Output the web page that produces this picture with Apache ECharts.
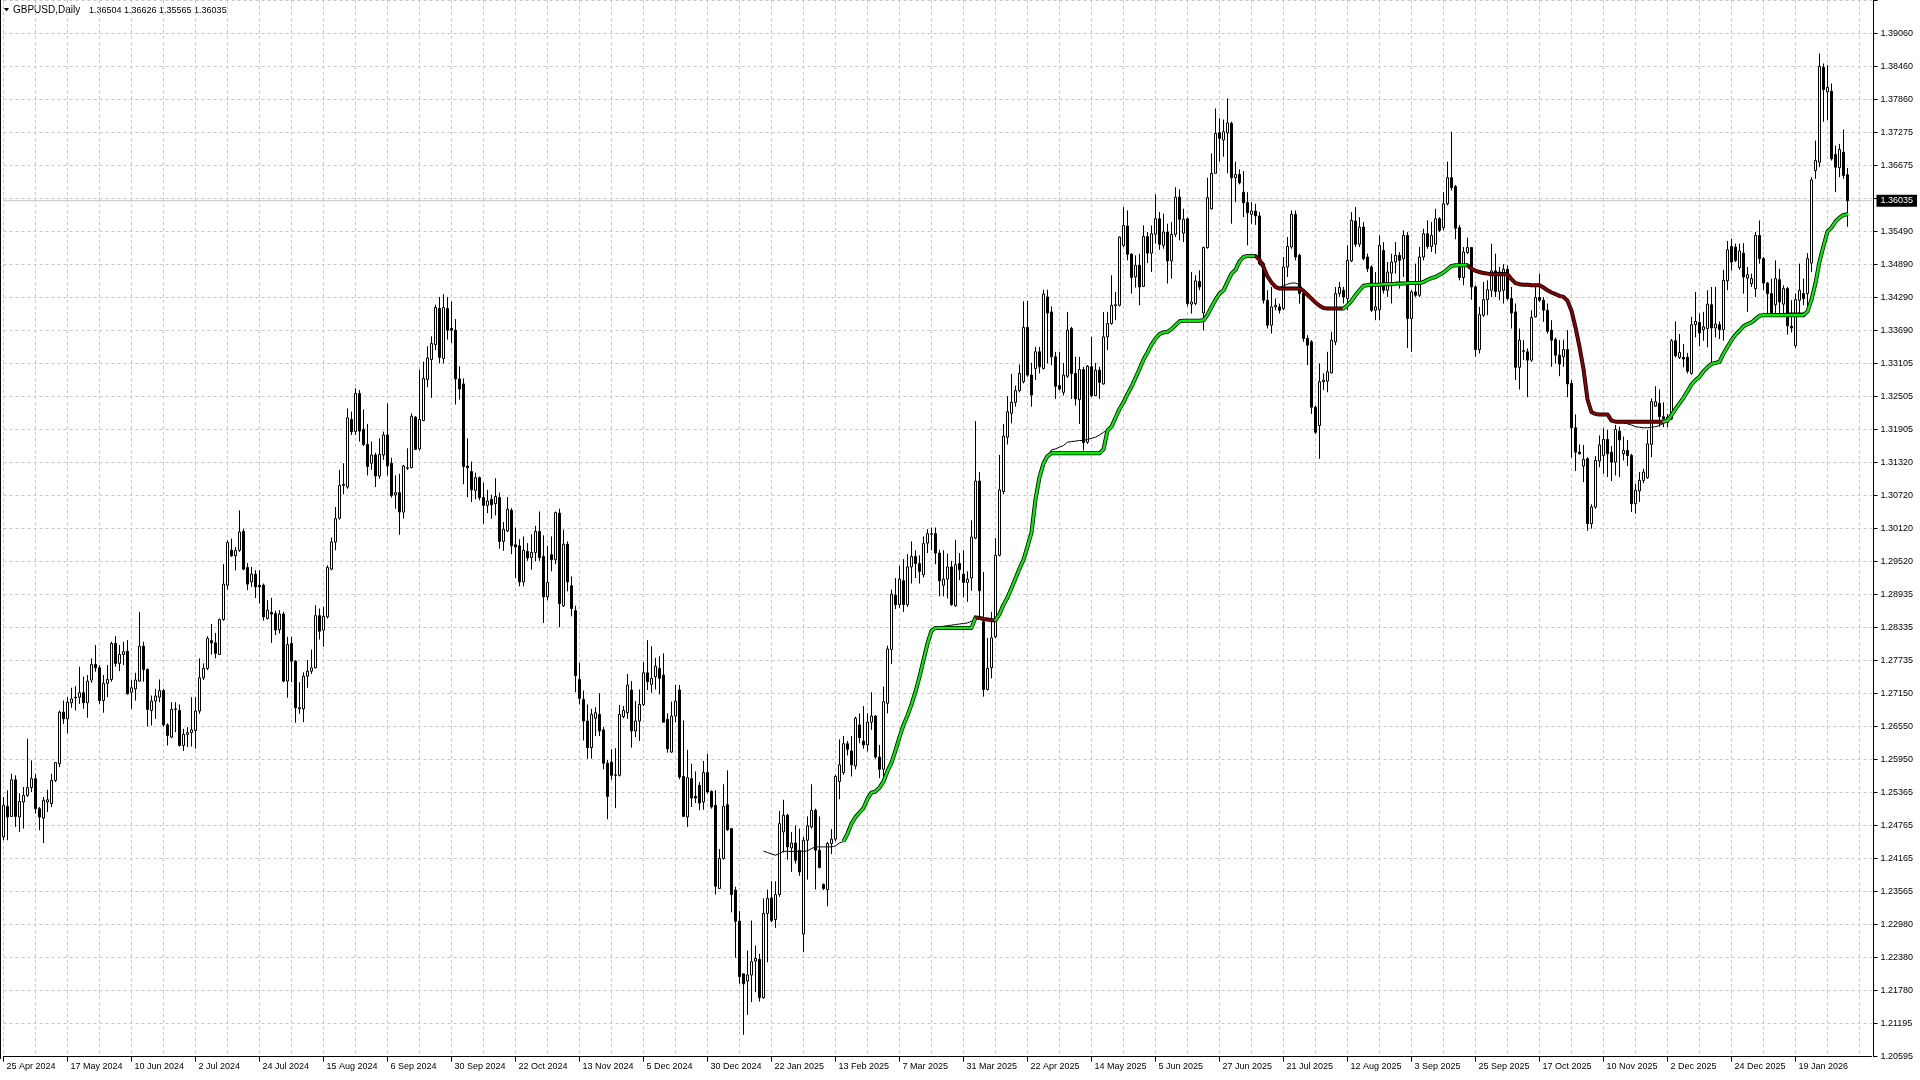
<!DOCTYPE html>
<html><head><meta charset="utf-8">
<script src="https://cdn.jsdelivr.net/npm/echarts/dist/echarts.min.js"></script>
<style>html,body{margin:0;padding:0;background:#fff;overflow:hidden}#c{width:1920px;height:1080px}</style>
</head><body><div id="c"></div><script>
// ---------- DATA (prices in pips, 1e-4) ----------
const DATE_LABELS = ['25 Apr 2024','17 May 2024','10 Jun 2024','2 Jul 2024','24 Jul 2024','15 Aug 2024','6 Sep 2024','30 Sep 2024','22 Oct 2024','13 Nov 2024','5 Dec 2024','30 Dec 2024','22 Jan 2025','13 Feb 2025','7 Mar 2025','31 Mar 2025','22 Apr 2025','14 May 2025','5 Jun 2025','27 Jun 2025','21 Jul 2025','12 Aug 2025','3 Sep 2025','25 Sep 2025','17 Oct 2025','10 Nov 2025','2 Dec 2025','24 Dec 2025','19 Jan 2026'];
const PRICE_TICKS = ['1.39060','1.38460','1.37860','1.37275','1.36675','1.36075','1.35490','1.34890','1.34290','1.33690','1.33105','1.32505','1.31905','1.31320','1.30720','1.30120','1.29520','1.28935','1.28335','1.27735','1.27150','1.26550','1.25950','1.25365','1.24765','1.24165','1.23565','1.22980','1.22380','1.21780','1.21195','1.20595'];
const SYMBOL_TEXT = 'GBPUSD,Daily';
const LAST_BAR_TEXT = '1.36504 1.36626 1.35565 1.36035';
const LAST_PRICE = 1.36035;

const OPEN = [
12456,12511,12493,12559,12492,12519,12531,12545,12561,12507,
12490,12519,12516,12558,12588,12681,12669,12698,12708,12708,
12716,12698,12739,12767,12761,12702,12733,12740,12805,12769,
12785,12791,12717,12723,12737,12800,12758,12684,12701,12708,
12720,12658,12636,12686,12684,12621,12641,12644,12648,12683,
12743,12760,12810,12806,12785,12848,12910,12973,12963,12973,
13007,12942,12916,12930,12910,12910,12850,12861,12859,12830,
12858,12737,12805,12773,12687,12687,12746,12755,12761,12855,
12829,12853,12939,12988,13031,13090,13087,13209,13187,13256,
13191,13164,13130,13145,13107,13145,13181,13130,13073,13077,
13042,13121,13122,13213,13156,13207,13281,13317,13344,13409,
13319,13409,13373,13370,13282,13273,13125,13115,13081,13104,
13068,13054,13065,13057,13068,12989,13008,13045,12983,12981,
12916,12971,12960,12969,13007,12962,12889,12965,12956,13040,
12873,12984,12909,12864,12740,12704,12665,12617,12670,12677,
12649,12589,12591,12567,12567,12673,12680,12721,12647,12665,
12695,12752,12731,12745,12760,12748,12668,12609,12674,12721,
12565,12492,12561,12529,12549,12519,12572,12538,12513,12363,
12417,12514,12471,12360,12304,12209,12196,12207,12232,12235,
12166,12318,12346,12307,12352,12465,12495,12436,12445,12432,
12281,12450,12474,12504,12432,12370,12361,12444,12452,12556,
12572,12624,12611,12584,12658,12629,12622,12663,12674,12600,
12578,12697,12794,12892,12875,12918,12875,12943,12962,12949,
12929,12986,13002,13003,12968,12910,12921,12943,12873,12949,
12930,12915,12923,12995,13098,12844,12722,12761,12817,12964,
13079,13177,13220,13240,13261,13277,13375,13289,13301,13331,
13301,13430,13403,13322,13270,13258,13287,13373,13292,13245,
13299,13168,13304,13252,13298,13273,13358,13382,13414,13415,
13523,13558,13507,13466,13487,13449,13539,13509,13543,13571,
13523,13547,13495,13543,13610,13545,13571,13417,13418,13458,
13401,13519,13589,13653,13726,13713,13726,13743,13645,13651,
13619,13600,13579,13585,13576,13490,13424,13379,13412,13412,
13409,13484,13520,13579,13505,13436,13355,13349,13231,13198,
13277,13278,13293,13349,13436,13442,13427,13495,13567,13525,
13556,13502,13484,13406,13407,13514,13442,13473,13493,13505,
13499,13541,13391,13439,13433,13502,13544,13521,13525,13571,
13555,13598,13645,13629,13555,13465,13510,13519,13448,13335,
13397,13425,13442,13477,13440,13442,13480,13427,13403,13303,
13333,13331,13316,13394,13429,13424,13406,13370,13353,13325,
13322,13335,13274,13194,13150,13125,13138,13021,13051,13134,
13144,13173,13150,13132,13188,13147,13153,13144,13057,13080,
13099,13104,13164,13233,13238,13214,13204,13210,13351,13321,
13321,13321,13292,13380,13384,13371,13373,13416,13374,13380,
13371,13459,13521,13520,13483,13509,13464,13454,13445,13541,
13499,13455,13436,13416,13461,13417,13445,13377,13342,13424,
13436,13436,13491,13658,13673,13844,13800,13801,13687,13663,
13691,13650.4];
const CLOSE = [
12513,12492,12559,12493,12520,12531,12545,12561,12507,12492,
12522,12523,12558,12590,12681,12669,12699,12705,12707,12716,
12698,12737,12767,12761,12702,12733,12740,12805,12769,12785,
12790,12714,12725,12739,12800,12758,12686,12701,12710,12720,
12658,12639,12686,12687,12621,12641,12644,12649,12683,12743,
12760,12814,12806,12787,12848,12912,12987,12963,12973,13006,
12939,12912,12930,12907,12907,12853,12865,12858,12829,12858,
12737,12803,12773,12689,12689,12746,12755,12761,12855,12827,
12854,12942,12988,13030,13090,13092,13212,13187,13256,13188,
13164,13124,13145,13107,13146,13181,13125,13072,13077,13042,
13125,13122,13215,13155,13209,13283,13320,13346,13411,13321,
13411,13370,13370,13282,13264,13124,13122,13082,13104,13068,
13054,13062,13055,13070,12989,13011,13047,12981,12979,12916,
12973,12959,12969,13007,12960,12889,12915,12956,13041,12877,
12984,12916,12868,12747,12706,12665,12617,12677,12680,12647,
12589,12529,12567,12568,12677,12684,12730,12647,12665,12695,
12752,12736,12742,12764,12742,12663,12615,12674,12701,12564,
12493,12563,12526,12526,12517,12572,12537,12510,12367,12417,
12511,12469,12352,12304,12204,12191,12207,12231,12237,12166,
12318,12345,12305,12352,12480,12495,12438,12445,12414,12393,
12450,12476,12504,12432,12401,12363,12444,12452,12565,12586,
12624,12614,12586,12670,12635,12622,12663,12674,12600,12578,
12700,12795,12894,12875,12921,12875,12943,12962,12949,12935,
12985,13003,13003,12968,12918,12921,12943,12875,12947,12938,
12915,12921,12997,13098,12900,12722,12760,12815,12964,13082,
13179,13223,13240,13261,13292,13375,13289,13253,13331,13304,
13435,13401,13322,13269,13264,13289,13370,13292,13246,13299,
13167,13305,13252,13298,13276,13358,13382,13415,13416,13538,
13559,13507,13465,13487,13448,13539,13509,13544,13571,13525,
13547,13495,13543,13610,13570,13570,13418,13421,13459,13448,
13519,13609,13653,13725,13716,13728,13744,13645,13651,13636,
13600,13582,13585,13576,13490,13424,13379,13412,13415,13406,
13484,13521,13579,13502,13436,13355,13343,13231,13186,13277,
13280,13295,13352,13436,13447,13430,13496,13568,13525,13556,
13499,13481,13406,13412,13523,13442,13475,13493,13505,13496,
13541,13391,13439,13433,13502,13544,13521,13541,13571,13550,
13598,13645,13627,13554,13465,13511,13519,13448,13335,13398,
13425,13443,13477,13440,13475,13480,13427,13401,13303,13352,
13332,13316,13393,13429,13424,13406,13368,13352,13325,13309,
13335,13273,13194,13150,13147,13137,13021,13051,13135,13163,
13173,13147,13132,13191,13172,13153,13144,13057,13081,13099,
13114,13165,13241,13241,13214,13210,13213,13351,13324,13330,
13318,13296,13380,13386,13365,13376,13417,13374,13381,13371,
13460,13515,13493,13496,13513,13466,13470,13463,13541,13499,
13455,13436,13400,13463,13421,13445,13378,13374,13425,13442,
13427,13499,13641,13676,13846,13804,13808,13679,13664,13696,
13649,13603.5];
const LOW = [
12450,12450,12492,12474,12465,12471,12528,12537,12498,12468,
12445,12501,12510,12555,12582,12660,12643,12689,12684,12696,
12687,12671,12734,12754,12696,12680,12708,12736,12763,12755,
12766,12713,12687,12702,12736,12736,12655,12657,12669,12699,
12655,12621,12634,12645,12619,12611,12618,12619,12615,12678,
12739,12757,12785,12778,12784,12846,12902,12961,12937,12970,
12937,12901,12907,12887,12877,12846,12848,12806,12820,12823,
12735,12707,12735,12662,12678,12663,12725,12750,12760,12812,
12799,12850,12937,12973,13028,13074,13084,13181,13181,13169,
13161,13108,13118,13087,13102,13136,13108,13068,13048,13001,
13030,13118,13121,13154,13153,13206,13267,13248,13334,13310,
13310,13353,13347,13236,13245,13092,13069,13060,13065,13063,
13021,13040,13030,13036,12976,12972,13006,12966,12923,12908,
12908,12954,12938,12953,12954,12842,12883,12935,12948,12834,
12871,12899,12854,12717,12695,12630,12597,12597,12638,12638,
12578,12488,12559,12508,12565,12670,12669,12617,12636,12629,
12692,12721,12716,12722,12713,12663,12608,12608,12663,12560,
12492,12474,12510,12517,12504,12505,12534,12507,12352,12363,
12415,12467,12320,12238,12191,12099,12135,12158,12176,12159,
12164,12230,12302,12292,12348,12428,12415,12393,12408,12386,
12248,12379,12471,12361,12399,12360,12331,12425,12448,12524,
12568,12603,12565,12578,12625,12615,12610,12649,12597,12562,
12562,12679,12768,12867,12869,12862,12871,12913,12923,12913,
12924,12968,12973,12948,12890,12890,12886,12873,12871,12919,
12888,12880,12900,12993,12854,12709,12720,12742,12815,12962,
13074,13164,13202,13232,13258,13274,13286,13232,13280,13292,
13299,13310,13307,13246,13261,13252,13284,13246,13234,13201,
13153,13165,13249,13251,13246,13272,13334,13380,13388,13413,
13520,13496,13436,13447,13415,13448,13491,13475,13526,13515,
13517,13454,13463,13538,13532,13529,13413,13400,13415,13442,
13370,13517,13588,13653,13674,13683,13653,13562,13601,13633,
13574,13523,13562,13560,13487,13418,13373,13364,13406,13400,
13406,13466,13517,13496,13418,13349,13307,13219,13183,13138,
13262,13258,13292,13343,13430,13418,13406,13493,13520,13520,
13496,13475,13403,13388,13388,13436,13430,13418,13472,13445,
13466,13338,13331,13430,13430,13496,13517,13511,13508,13547,
13550,13595,13622,13534,13460,13451,13508,13425,13322,13328,
13394,13397,13430,13430,13424,13418,13424,13373,13280,13263,
13316,13249,13313,13393,13421,13385,13364,13304,13310,13287,
13304,13249,13140,13116,13146,13096,13008,13012,13048,13123,
13111,13105,13098,13108,13105,13135,13125,13042,13039,13060,
13094,13102,13141,13232,13196,13195,13195,13208,13321,13318,
13303,13292,13290,13357,13341,13351,13339,13312,13357,13354,
13351,13442,13478,13493,13479,13436,13403,13448,13430,13490,
13442,13400,13397,13400,13400,13400,13362,13366,13338,13400,
13415,13403,13475,13643,13664,13746,13749,13676,13619,13646,
13643,13556.5];
const HIGH = [
12528,12540,12570,12567,12535,12546,12633,12594,12570,12510,
12528,12541,12570,12591,12684,12702,12708,12725,12728,12763,
12745,12748,12778,12802,12766,12748,12766,12808,12818,12802,
12808,12811,12739,12752,12862,12808,12760,12711,12723,12740,
12723,12661,12699,12699,12695,12651,12654,12708,12708,12778,
12769,12818,12840,12824,12850,12948,12991,12994,12979,13045,
13012,12950,12943,12937,12937,12913,12883,12887,12864,12865,
12862,12817,12817,12775,12735,12753,12775,12794,12874,12868,
12871,12946,12996,13051,13118,13130,13229,13223,13265,13262,
13227,13201,13169,13149,13175,13187,13238,13140,13108,13111,
13127,13157,13220,13215,13299,13313,13341,13359,13416,13430,
13435,13430,13422,13390,13305,13283,13175,13133,13113,13106,
13095,13082,13073,13103,13077,13024,13069,13049,13014,12993,
12998,12986,13002,13017,13043,13000,12981,12998,13043,13048,
13010,12989,12926,12873,12770,12720,12695,12687,12690,12715,
12654,12595,12614,12616,12694,12692,12750,12737,12701,12722,
12771,12811,12800,12779,12782,12787,12679,12700,12730,12730,
12666,12613,12588,12574,12555,12593,12606,12540,12540,12434,
12551,12576,12472,12366,12322,12209,12251,12305,12260,12245,
12345,12361,12376,12376,12503,12523,12498,12465,12477,12471,
12456,12493,12551,12507,12493,12372,12447,12470,12568,12632,
12638,12629,12638,12673,12679,12692,12679,12717,12676,12622,
12727,12801,12902,12923,12945,12957,12966,12989,12973,12964,
12998,13011,13014,13014,12974,12973,12967,12954,12992,12968,
12973,12935,13027,13206,13114,12934,12815,12862,12995,13145,
13201,13251,13291,13270,13308,13422,13423,13311,13340,13340,
13443,13443,13413,13331,13331,13311,13403,13376,13322,13322,
13304,13307,13358,13311,13304,13403,13403,13469,13439,13539,
13592,13586,13509,13505,13508,13559,13547,13559,13615,13583,
13580,13562,13565,13628,13624,13589,13573,13475,13469,13478,
13521,13645,13689,13770,13752,13750,13788,13746,13674,13660,
13657,13619,13601,13598,13583,13493,13442,13448,13427,13418,
13502,13538,13586,13586,13508,13442,13361,13352,13234,13310,
13292,13331,13367,13448,13457,13448,13523,13583,13592,13574,
13565,13508,13487,13475,13541,13529,13493,13508,13529,13511,
13550,13547,13442,13490,13520,13553,13568,13565,13589,13574,
13619,13674,13728,13632,13560,13520,13537,13520,13451,13412,
13457,13460,13526,13508,13484,13489,13487,13448,13418,13373,
13352,13337,13406,13448,13472,13430,13418,13388,13357,13352,
13353,13370,13280,13218,13164,13163,13141,13056,13143,13180,
13193,13190,13161,13199,13196,13178,13172,13147,13093,13114,
13120,13190,13247,13269,13263,13240,13219,13354,13386,13363,
13345,13329,13394,13439,13400,13403,13442,13448,13448,13386,
13479,13531,13535,13526,13526,13527,13484,13472,13547,13568,
13502,13457,13463,13496,13481,13451,13448,13424,13436,13490,
13463,13509,13646,13712,13869,13851,13848,13815,13703,13706,
13732,13662.6];

// thick indicator line (starts at bar 210) and thin line (starts at bar 190)
const SIGNAL_START = 210;
const SIGNAL = [
12448,12462,12480,12492,12500,12508,12525,12536,12538,12545,
12556,12575,12590,12612,12636,12658,12675,12695,12718,12745,
12775,12805,12828,12833,12833,12833,12833,12833,12833,12833,
12833,12833,12833,12852,12851,12849,12848,12847,12847,12858,
12875,12888,12905,12922,12940,12956,12980,13005,13065,13105,
13130,13143,13148,13148,13148,13148,13148,13148,13148,13148,
13148,13148,13148,13148,13148,13155,13189,13196,13212,13228,
13240,13255,13268,13284,13300,13317,13330,13344,13355,13363,
13366,13367,13372,13379,13386,13387,13387,13387,13387,13387,
13388,13398,13412,13425,13436,13442,13457,13472,13479,13494,
13502,13504,13504,13504,13497,13484,13467,13456,13448,13445,
13445,13445,13445,13445,13445,13441,13434,13427,13420,13414,
13410,13409,13409,13409,13409,13409,13415,13423,13433,13442,
13450,13451,13452,13452,13452,13453,13453,13453,13454,13454,
13454,13455,13455,13455,13455,13457,13461,13464,13466,13470,
13474,13480,13486,13487,13487,13487,13487,13481,13477,13475,
13473,13472,13471,13471,13471,13471,13471,13462,13455,13453,
13452,13452,13451,13451,13451,13447,13442,13438,13435,13432,
13430,13423,13405,13375,13340,13300,13245,13222,13219,13218,
13218,13218,13207,13205,13205,13205,13205,13205,13205,13205,
13205,13205,13205,13205,13205,13205,13207,13217,13228,13238,
13248,13260,13272,13280,13286,13296,13303,13309,13311,13313,
13328,13340,13352,13362,13369,13377,13381,13384,13390,13396,
13397,13397,13397,13397,13397,13397,13397,13397,13397,13397,
13397,13404,13425,13455,13494,13522,13548,13555,13566,13573,
13578,13579];
const THIN_START = 190;
const THIN = [
12430,12428,12425,12423,12426,12430,12430,12430,12430,12430,
12430,12431,12435,12438,12438,12438,12438,12438,12440,12445,
12448,12462,12480,12492,12500,12508,12525,12536,12538,12545,
12556,12575,12590,12612,12636,12658,12675,12695,12718,12745,
12775,12805,12828,12834,12835,12836,12837,12838,12839,12840,
12841,12842,12845,12852,12851,12849,12848,12847,12847,12858,
12875,12888,12905,12922,12940,12956,12980,13005,13065,13105,
13130,13143,13154,13156,13159,13162,13168,13169,13170,13171,
13171,13173,13175,13177,13181,13186,13189,13196,13212,13228,
13240,13255,13268,13284,13300,13317,13330,13344,13355,13363,
13366,13367,13372,13379,13386,13387,13387,13387,13387,13387,
13388,13398,13412,13425,13436,13442,13457,13472,13479,13494,
13502,13504,13504,13504,13497,13484,13467,13456,13448,13447,
13450,13453,13455,13455,13452,13443,13434,13427,13420,13414,
13410,13409,13409,13409,13409,13409,13415,13423,13433,13442,
13450,13451,13452,13452,13453,13453,13454,13454,13455,13455,
13455,13456,13456,13456,13456,13457,13461,13464,13466,13470,
13474,13480,13486,13487,13487,13487,13487,13481,13477,13475,
13473,13472,13471,13473,13474,13474,13473,13462,13455,13453,
13452,13452,13451,13451,13451,13447,13442,13438,13435,13432,
13430,13423,13405,13375,13340,13300,13245,13222,13219,13218,
13218,13218,13207,13205,13204,13203,13201,13199,13196,13195,
13194,13194,13195,13196,13198,13202,13207,13217,13228,13238,
13248,13260,13272,13280,13286,13296,13303,13309,13311,13313,
13328,13340,13352,13362,13369,13377,13381,13384,13390,13396,
13398,13399,13399,13400,13400,13400,13401,13401,13401,13401,
13401,13404,13425,13455,13494,13522,13548,13555,13566,13573,
13578,13579];

// ---------- LAYOUT ----------
const BASE = 1.20595;        // lowest price label, axis origin
const STEP = 0.0059565;      // price between horizontal grid lines
const PX_STEP = 33.03;       // pixels between horizontal grid lines
const BAR_PX = 4;
const N_SLOTS = 468;
const GRID_LEFT = 3.5;
const TOP_LABEL_Y = 32.8;
const toAxis = p => (p == null ? null : p * 1e-4 - BASE);

const cats = Array.from({length: N_SLOTS}, (_, i) => String(i));
const candles = OPEN.map((o, i) => [toAxis(o), toAxis(CLOSE[i]), toAxis(LOW[i]), toAxis(HIGH[i])]);
function padded(start, vals) {
  const a = new Array(N_SLOTS).fill(null);
  vals.forEach((v, k) => { a[start + k] = toAxis(v); });
  return a;
}
const sigData = padded(SIGNAL_START, SIGNAL);
const thinData = padded(THIN_START, THIN);
const lastLine = new Array(N_SLOTS).fill(LAST_PRICE - BASE);

// split thick line into rising (green) / falling (maroon) runs
const runs = [];
let dir = 1, cur = null;
for (let k = 1; k < SIGNAL.length; k++) {
  const d = SIGNAL[k] - SIGNAL[k - 1];
  if (d > 0) dir = 1; else if (d < 0) dir = -1;
  if (!cur || cur.dir !== dir) { cur = {dir, from: k - 1, to: k}; runs.push(cur); }
  else cur.to = k;
}
const runSeries = runs.map(r => {
  const a = new Array(N_SLOTS).fill(null);
  for (let k = r.from; k <= r.to; k++) a[SIGNAL_START + k] = toAxis(SIGNAL[k]);
  return {type: 'line', data: a, symbol: 'none', showSymbol: false, silent: true, animation: false,
    connectNulls: false, lineStyle: {color: r.dir > 0 ? '#00f000' : '#8b0000', width: 2.4, join: 'round', cap: 'round'}, z: 5};
});

const FONT = '"Liberation Sans", Arial, sans-serif';
const lblOn = i => i % 16 === 0 && i / 16 < DATE_LABELS.length;

const chart = echarts.init(document.getElementById('c'), null, {renderer: 'canvas', width: 1920, height: 1080});
chart.setOption({
  animation: false,
  backgroundColor: '#ffffff',
  grid: {left: GRID_LEFT, top: TOP_LABEL_Y - PX_STEP, width: BAR_PX * (N_SLOTS - 1), height: 32 * PX_STEP},
  xAxis: {
    type: 'category', data: cats, boundaryGap: false, offset: 2,
    axisLine: {show: true, lineStyle: {color: '#000', width: 1}},
    axisTick: {show: true, length: 5, interval: lblOn, lineStyle: {color: '#000'}},
    axisLabel: {show: true, interval: lblOn, formatter: (v, i) => DATE_LABELS[i / 16] || '', align: 'left',
      padding: [0, 0, 0, 3], margin: 3, fontSize: 9, color: '#000', fontFamily: FONT},
    splitLine: {show: true, interval: i => i % 8 === 0, lineStyle: {color: '#c8c8c8', type: [3, 3], width: 1}}
  },
  yAxis: {
    type: 'value', position: 'right', offset: 2, min: 0, max: 32 * STEP, interval: STEP, scale: false,
    axisLine: {show: true, lineStyle: {color: '#000', width: 1}},
    axisTick: {show: true, length: 4, lineStyle: {color: '#000'}},
    axisLabel: {show: true, margin: 7, align: 'left', fontSize: 9, color: '#000', fontFamily: FONT,
      formatter: v => {
        if (Math.abs(v - (LAST_PRICE - BASE)) < STEP / 2) return '';
        const k = Math.round(v / STEP);
        return PRICE_TICKS[PRICE_TICKS.length - 1 - k] || '';
      }},
    splitLine: {show: true, lineStyle: {color: '#c8c8c8', type: [3, 3], width: 1}}
  },
  series: [
    {type: 'line', data: lastLine, symbol: 'none', showSymbol: false, silent: true, animation: false, z: 1,
      lineStyle: {color: '#c0c0c0', width: 1},
      endLabel: {show: true, distance: 5, formatter: LAST_PRICE.toFixed(5), color: '#fff', backgroundColor: '#000',
        padding: [2, 4, 1, 4], fontSize: 9, fontFamily: FONT}},
    {type: 'candlestick', data: candles, barWidth: 2, clip: false, silent: true, animation: false, z: 2,
      itemStyle: {color: '#ffffff', color0: '#000000', borderColor: '#000000', borderColor0: '#000000', borderWidth: 1}},
    {type: 'line', data: thinData, symbol: 'none', showSymbol: false, silent: true, animation: false, z: 3,
      lineStyle: {color: '#000', width: 1}},
    {type: 'line', data: sigData, symbol: 'none', showSymbol: false, silent: true, animation: false, z: 4,
      lineStyle: {color: '#000', width: 4, join: 'round'}},
    ...runSeries
  ],
  graphic: [
    {type: 'line', shape: {x1: 0.5, y1: 0, x2: 0.5, y2: 1059}, style: {stroke: '#000', lineWidth: 1}, silent: true},
    {type: 'polygon', shape: {points: [[4, 8], [9, 8], [6.5, 11.5]]}, style: {fill: '#000'}, silent: true},
    {type: 'text', left: 13, top: 5, style: {text: SYMBOL_TEXT, font: '10px ' + FONT, fill: '#000'}, silent: true},
    {type: 'text', left: 89, top: 6, style: {text: LAST_BAR_TEXT, font: '9px ' + FONT, fill: '#000'}, silent: true}
  ]
});
</script></body></html>
